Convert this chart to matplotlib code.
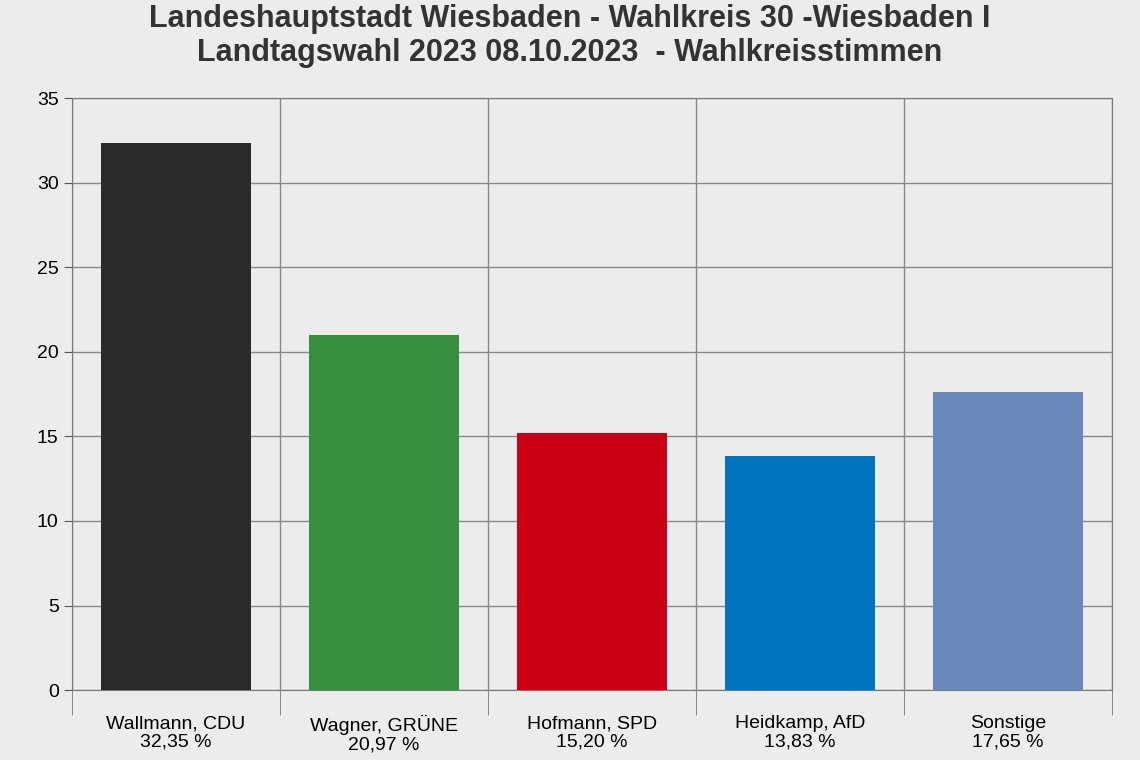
import matplotlib.pyplot as plt
import numpy as np

plt.rcParams['font.family'] = 'Liberation Sans'

# === Data ===
candidates = ['Wallmann, CDU', 'Wagner, GRÜNE', 'Hofmann, SPD', 'Heidkamp, AfD', 'Sonstige']
shares = [32.35, 20.97, 15.20, 13.83, 17.65]
colors = ['#2b2a29', '#368f3f', '#c90016', '#0074bf', '#6b88bb']
yticks = [0, 5, 10, 15, 20, 25, 30, 35]

fig = plt.figure(figsize=(11.4, 7.6), dpi=100, facecolor='#ececec')
ax = fig.add_axes([0.063, 0.092, 0.9124, 0.779])
ax.set_facecolor('#ececec')

x = np.arange(len(candidates))
ax.bar(x, shares, width=0.72, color=colors, zorder=3)

ax.set_xlim(-0.5, len(candidates) - 0.5)
ax.set_ylim(0, 35)
ax.set_yticks(yticks)
ax.tick_params(axis='y', labelsize=14, length=6, color='#555555')
ax.yaxis.grid(True, color='#888888', linewidth=1, zorder=0)

# category separators
bounds = np.arange(len(candidates) + 1) - 0.5
ax.set_xticks(bounds, minor=True)
ax.set_xticks(x)
ax.set_xticklabels([f'{c}\n{s:.2f} %'.replace('.', ',') for c, s in zip(candidates, shares)],
                   fontsize=14, linespacing=1.1, va='top')
ax.tick_params(axis='x', which='major', length=0, pad=18)
ax.tick_params(axis='x', which='minor', length=18, color='#777777')
for b in bounds:
    ax.axvline(b, color='#888888', linewidth=1, zorder=0)

for s in ax.spines.values():
    s.set_color('#777777')

fig.text(0.5, 0.995, 'Landeshauptstadt Wiesbaden - Wahlkreis 30 -Wiesbaden I\n'
         'Landtagswahl 2023 08.10.2023  - Wahlkreisstimmen',
         ha='center', va='top', fontsize=22, fontweight='bold', color='#333333',
         linespacing=1.2)

fig.savefig('out.png', dpi=100, facecolor=fig.get_facecolor())
